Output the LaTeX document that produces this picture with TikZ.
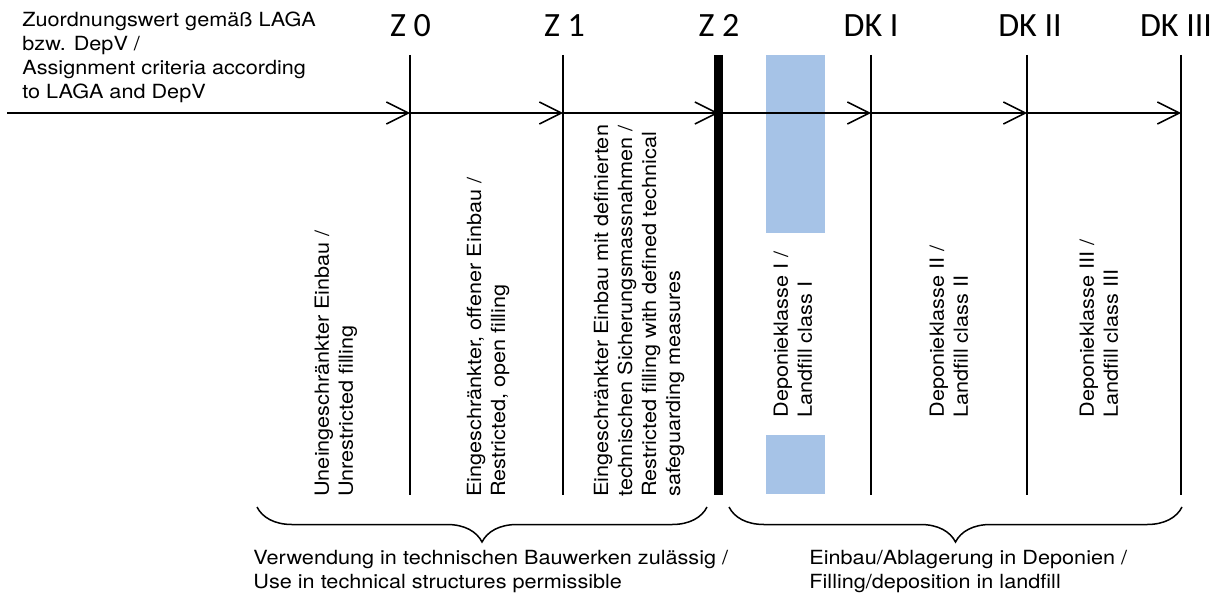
\documentclass[tikz,border=0pt]{standalone}
\usepackage{fontspec}
\setmainfont[FakeStretch=1.11]{TeX Gyre Heros}
\newfontfamily\limitfont{Carlito}
\usetikzlibrary{arrows.meta,decorations.pathreplacing}
\definecolor{markblue}{RGB}{166,195,231}

\begin{document}
\begin{tikzpicture}[x=0.5pt,y=-0.5pt,
  every node/.style={inner sep=0pt},
  body/.style={font=\fontsize{9.75}{12}\selectfont, align=left},
  colbox/.style={body, rotate=90, anchor=west},
  limit/.style={font=\limitfont\fontsize{17}{17}\selectfont, anchor=base},
  axis/.style={line width=0.75pt, -{Straight Barb[length=11pt,width=11pt]}},
  grp/.style={decorate, decoration={brace, mirror, amplitude=17.5pt}, line width=0.75pt}]
  \useasboundingbox (0,0) rectangle (1218,593);
  \def\yhi{55} % top of the limit lines
  \def\ylo{495} % bottom of the limit lines
  \def\yax{113} % axis

  % blue marks round Deponieklasse I
  \fill[markblue] (766,55) rectangle (825,233);
  \fill[markblue] (766,435) rectangle (825,494);

  % limit values
  \coordinate (start-a) at (7,\yax);
  \foreach \name/\x/\lx/\txt in {z0/410/410.5/Z 0, z1/563/564.5/Z 1, z2/718.5/719/Z 2,
      dk1/871/871/DK I, dk2/1027/1030/DK II, dk3/1181/1176/DK III} {
    \node[limit] (\name) at (\lx,37) {\txt};
    \coordinate (\name-t) at (\x,\yhi);
    \coordinate (\name-a) at (\x,\yax);
    \coordinate (\name-b) at (\x,\ylo);
  }
  \foreach \a/\b in {start/z0, z0/z1, z1/z2, z2/dk1, dk1/dk2, dk2/dk3}
    \draw[axis] (\a-a) -- (\b-a);
  \foreach \n in {z0, z1, dk1, dk2, dk3}
    \draw[line width=0.75pt] (\n-t) -- (\n-b);
  \draw[line width=4.5pt] (z2-t) -- (z2-b);

  \node[body, anchor=north west] (title) at (22,12) {Zuordnungswert gemäß LAGA\\bzw. DepV /\\Assignment criteria according\\to LAGA and DepV};

  % classes
  \node[colbox] (c1) at (336,497) {Uneingeschränkter Einbau /\\Unrestricted filling};
  \node[colbox] (c2) at (488,497) {Eingeschränkter, offener Einbau /\\Restricted, open filling};
  \node[colbox] (c3) at (639,497) {Eingeschränkter Einbau mit definierten\\technischen Sicherungsmassnahmen /\\Restricted filling with defined technical\\safeguarding measures};
  \node[colbox] (c4) at (793,418) {Deponieklasse I /\\Landfill class I};
  \node[colbox] (c5) at (949,418) {Deponieklasse II /\\Landfill class II};
  \node[colbox] (c6) at (1099,418) {Deponieklasse III /\\Landfill class III};

  % groups
  \coordinate (g1a) at (257,507); \coordinate (g1b) at (707,507);
  \coordinate (g2a) at (729,507); \coordinate (g2b) at (1182,507);
  \draw[grp] (g1a) -- (g1b);
  \draw[grp] (g2a) -- (g2b);
  \node[body, anchor=north west] (use) at (253,550) {Verwendung in technischen Bauwerken zulässig /\\Use in technical structures permissible};
  \node[body, anchor=north west] (land) at (809,550) {Einbau/Ablagerung in Deponien /\\Filling/deposition in landfill};
\end{tikzpicture}
\end{document}
